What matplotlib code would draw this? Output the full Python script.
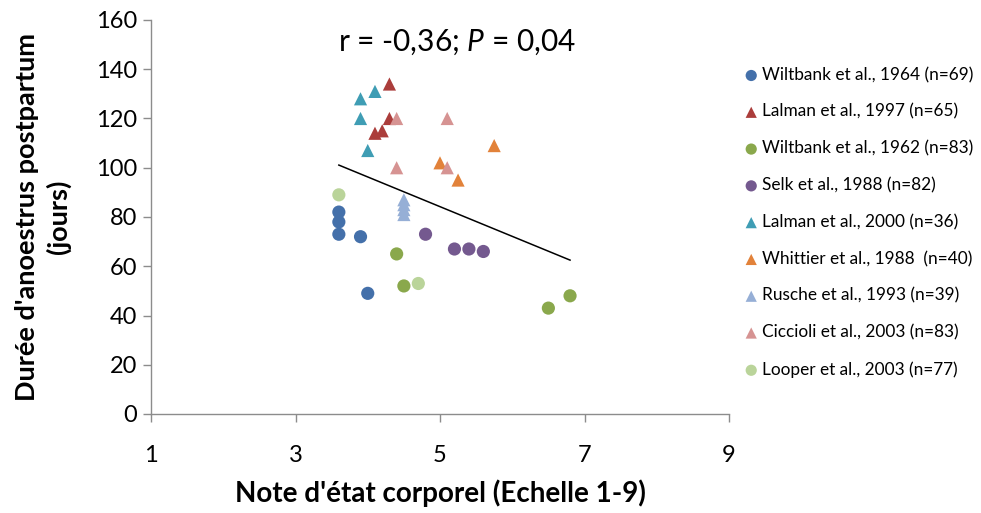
import matplotlib
matplotlib.use('Agg')
from matplotlib import pyplot as plt
import numpy as np

plt.rcParams['font.family'] = ['Lato', 'DejaVu Sans']
plt.rcParams['mathtext.fontset'] = 'custom'
plt.rcParams['mathtext.rm'] = 'Lato'
plt.rcParams['mathtext.it'] = 'Lato:italic'

# body condition score (x) vs postpartum anoestrus length in days (y), one entry per study
studies = [
	'Wiltbank et al., 1964 (n=69)',
	'Lalman et al., 1997 (n=65)',
	'Wiltbank et al., 1962 (n=83)',
	'Selk et al., 1988 (n=82)',
	'Lalman et al., 2000 (n=36)',
	'Whittier et al., 1988  (n=40)',
	'Rusche et al., 1993 (n=39)',
	'Ciccioli et al., 2003 (n=83)',
	'Looper et al., 2003 (n=77)',
]
x_wiltbank64 = [3.6, 3.6, 3.6, 3.9, 4.0]
y_wiltbank64 = [82, 78, 73, 72, 49]
x_lalman97 = [4.3, 4.3, 4.2, 4.1]
y_lalman97 = [134, 120, 115, 114]
x_wiltbank62 = [4.4, 4.5, 6.5, 6.8]
y_wiltbank62 = [65, 52, 43, 48]
x_selk = [4.8, 5.2, 5.4, 5.6]
y_selk = [73, 67, 67, 66]
x_lalman00 = [3.9, 4.1, 3.9, 4.0]
y_lalman00 = [128, 131, 120, 107]
x_whittier = [5.75, 5.0, 5.25]
y_whittier = [109, 102, 95]
x_rusche = [4.5, 4.5, 4.5, 4.5]
y_rusche = [87, 85, 83, 81]
x_ciccioli = [4.4, 5.1, 4.4, 5.1]
y_ciccioli = [120, 120, 100, 100]
x_looper = [3.6, 4.7]
y_looper = [89, 53]

# regression line over the observed range
trend_x = [3.6, 6.8]
trend_slope = -12.06
trend_intercept = 144.5

xs = [x_wiltbank64, x_lalman97, x_wiltbank62, x_selk, x_lalman00, x_whittier, x_rusche, x_ciccioli, x_looper]
ys = [y_wiltbank64, y_lalman97, y_wiltbank62, y_selk, y_lalman00, y_whittier, y_rusche, y_ciccioli, y_looper]
colors = ['#4470aa', '#ab3d3b', '#8aa84c', '#74598f', '#3f9db4', '#e2823a', '#96afd6', '#d69392', '#bad49a']
markers = ['o', '^', 'o', 'o', '^', '^', '^', '^', 'o']

fig = plt.figure(figsize=(9.81, 5.13), dpi=100)
ax = fig.add_axes([151/981, 1-414/513, (729-151)/981, (414-20)/513])

for x, y, c, m, lab in zip(xs, ys, colors, markers, studies):
	ax.scatter(x, y, s=90, color=c, marker=m, edgecolors='none', label=lab, zorder=3)

tx = np.array(trend_x)
ax.plot(tx, trend_slope*tx + trend_intercept, color='k', linewidth=1.1, zorder=2)

ax.set_xlim(1, 9)
ax.set_ylim(0, 160)
ax.set_xticks([1, 3, 5, 7, 9])
ax.set_yticks(np.arange(0, 161, 20))
for side in ['top', 'right']:
	ax.spines[side].set_visible(False)
for side in ['left', 'bottom']:
	ax.spines[side].set_color('#8c8c8c')
	ax.spines[side].set_linewidth(1.0)
ax.tick_params(axis='both', colors='#8c8c8c', labelcolor='k', labelsize=17, length=6, width=1.0, direction='out')
ax.tick_params(axis='x', pad=16)
ax.tick_params(axis='y', pad=4)

ax.set_xlabel("Note d'état corporel (Echelle 1-9)", fontsize=20, fontweight='bold', labelpad=10)
ax.set_ylabel("Durée d'anoestrus postpartum\n(jours)", fontsize=19.5, fontweight='bold', labelpad=18, linespacing=1.3)

ax.text(5.23, 151, r'r = -0,36; $P$ = 0,04', fontsize=21.5, ha='center', va='center')

fig.legend(loc='upper left', bbox_to_anchor=(734/981, 1-60/513), frameon=False, fontsize=12.4,
	handletextpad=0.0, handlelength=1.2, labelspacing=1.2, borderaxespad=0, markerscale=0.85, scatterpoints=1)

fig.savefig('out.png', dpi=100)
